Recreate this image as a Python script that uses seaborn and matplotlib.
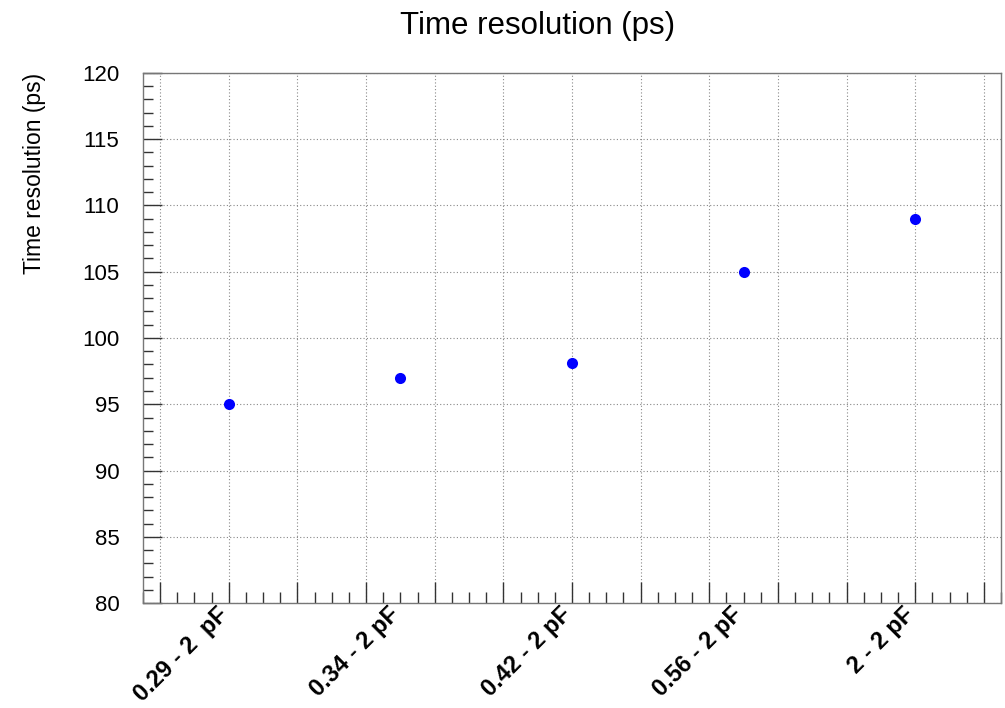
import numpy as np
import pandas as pd
import matplotlib
matplotlib.use("Agg")
import matplotlib.pyplot as plt
import seaborn as sns
from matplotlib.ticker import MultipleLocator, FixedLocator

categories = ["0.29 - 2  pF", "0.34 - 2 pF", "0.42 - 2 pF", "0.56 - 2 pF", "2 - 2 pF"]
resolution = [95.0, 97.0, 98.1, 105.0, 109.0]
y_ticks = [80, 85, 90, 95, 100, 105, 110, 115, 120]

sns.set_theme(style="white")
plt.rcParams["font.family"] = ["Liberation Sans", "DejaVu Sans"]
plt.rcParams["text.color"] = "black"
plt.rcParams["xtick.color"] = "black"
plt.rcParams["ytick.color"] = "black"
plt.rcParams["axes.labelcolor"] = "black"

df = pd.DataFrame({"cat": categories, "val": resolution})

fig = plt.figure(figsize=(10.05, 7.08), dpi=100)
ax = fig.add_axes([0.1423, 0.1483, 0.9960 - 0.1423, 0.8969 - 0.1483])

sns.stripplot(data=df, x="cat", y="val", order=categories, jitter=False,
              color="#0000ff", size=8, linewidth=0, ax=ax, zorder=5)

n = len(categories)
ax.set_xlim(-0.5, n - 0.5)
ax.set_ylim(y_ticks[0], y_ticks[-1])

# x grid / tick marks (ROOT style divisions)
grid_x = np.arange(-0.4, n - 0.5 + 1e-6, 0.4)
ax.xaxis.set_major_locator(FixedLocator(grid_x))
ax.set_xticklabels([""] * len(grid_x))
ax.xaxis.set_minor_locator(MultipleLocator(0.1))
ax.set_yticks(y_ticks)
ax.set_yticklabels([str(v) for v in y_ticks], fontsize=16)
ax.yaxis.set_minor_locator(MultipleLocator(1))

ax.tick_params(axis="x", which="both", bottom=True, top=False)
ax.tick_params(axis="y", which="both", left=True, right=False)
ax.tick_params(axis="x", which="major", direction="in", length=15, width=1, color="#333333")
ax.tick_params(axis="x", which="minor", direction="in", length=8, width=1, color="#333333")
ax.tick_params(axis="y", which="major", direction="in", length=14, width=1, color="#333333", pad=17)
ax.tick_params(axis="y", which="minor", direction="in", length=7, width=1, color="#333333")

ax.grid(True, which="major", linestyle=(0, (1, 2)), color="#888888", linewidth=0.8)
ax.set_axisbelow(True)

for s in ax.spines.values():
    s.set_color("#777777")
    s.set_linewidth(1)
    s.set_visible(True)

# category labels
sec = ax.secondary_xaxis("bottom")
sec.set_xticks(range(n))
sec.set_xticklabels(categories, rotation=45, ha="right", va="baseline", rotation_mode="anchor",
                    fontsize=17, fontweight="bold", color="black")
sec.tick_params(axis="x", length=0, pad=9)
sec.spines["bottom"].set_visible(False)
ax.set_xlabel("")
sec.set_xlabel("")

ax.set_ylabel("Time resolution (ps)", loc="top", fontsize=16.5, labelpad=26)
fig.text(0.535, 0.963, "Time resolution (ps)", ha="center", va="center", fontsize=22.5)

fig.savefig("out.png", dpi=100)
